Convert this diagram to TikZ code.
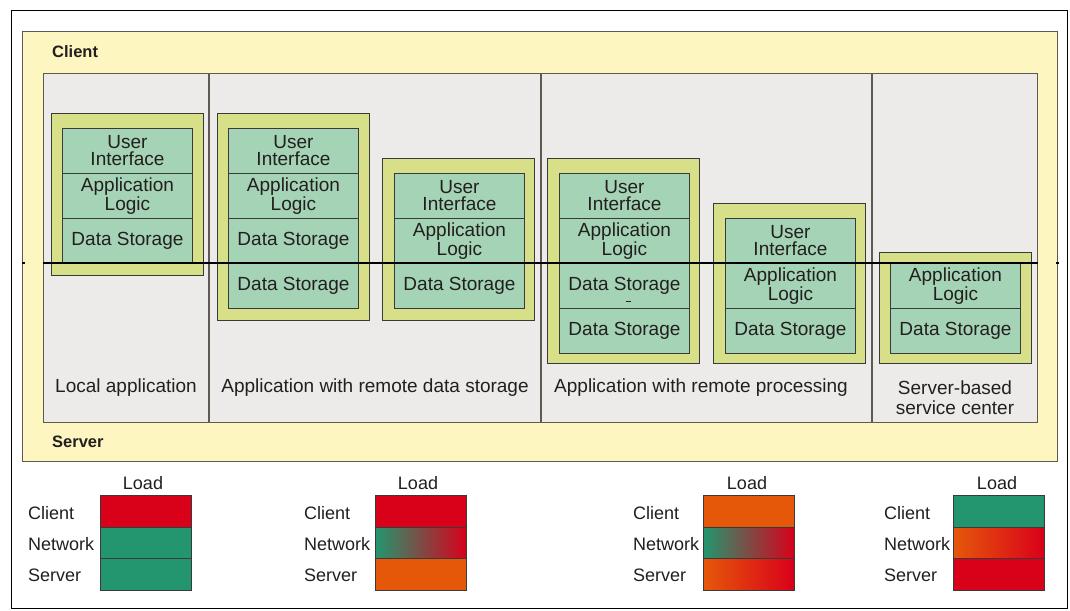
\documentclass[tikz,border=0pt]{standalone}
\usepackage{fontspec}
\setmainfont{Liberation Sans}
\definecolor{ylw}{HTML}{FDF6C0}
\definecolor{pgray}{HTML}{EDEBEA}
\definecolor{brd}{HTML}{5E5A52}
\definecolor{yg}{HTML}{D7DF89}
\definecolor{mint}{HTML}{A4D3B5}
\definecolor{dk}{HTML}{3A3A3A}
\definecolor{txt}{HTML}{231F20}
\definecolor{lred}{HTML}{D9001A}
\definecolor{lgreen}{HTML}{23966F}
\definecolor{lorange}{HTML}{E5580A}
\definecolor{tan}{HTML}{BCA066}
\begin{document}
\begin{tikzpicture}[x=1pt,y=-1pt,
  every node/.style={text=txt},
  holder/.style={draw=dk, fill=yg, line width=0.9pt, anchor=north west, minimum width=152pt, inner sep=0pt},
  tier/.style={draw=dk, fill=mint, line width=0.9pt, anchor=north west, minimum width=130pt, minimum height=45pt, inner sep=0pt, align=center, font=\fontsize{19}{17}\selectfont},
  coltext/.style={font=\fontsize{19}{20}\selectfont, align=center, inner sep=0pt},
  lbl/.style={font=\fontsize{18}{20}\selectfont, anchor=west, inner sep=0pt},
  loadbar/.style={draw=dk, line width=0.9pt, anchor=north west, minimum width=91pt, minimum height=31.7pt, inner sep=0pt},
  side/.style={font=\bfseries\fontsize{16.5}{18}\selectfont, anchor=west, inner sep=0pt},
]
\useasboundingbox (0,0) rectangle (1070,610);
\fill[white] (0,0) rectangle (1070,610);
% outer frame
\node[draw=black, line width=1pt, anchor=north west, minimum width=1056.5pt, minimum height=597.5pt, inner sep=0pt] (frame) at (10.5,10.5) {};
% client/server zone
\node[draw=brd, fill=ylw, line width=1.3pt, anchor=north west, minimum width=1035pt, minimum height=430pt, inner sep=0pt] (zone) at (22,31) {};
\node[side] (clientlbl) at (52,52) {Client};
\node[side] (serverlbl) at (52,442) {Server};
% panel
\node[draw=brd, fill=pgray, line width=1.3pt, anchor=north west, minimum width=994pt, minimum height=349pt, inner sep=0pt] (panel) at (43,73) {};
\draw[brd, line width=1.3pt] (209,73) -- (209,422) (541,73) -- (541,422) (872,73) -- (872,422);

% box 1
\node[holder, minimum height=162pt] (h1) at (51,113) {};
\node[tier] (b1a) at (62,128) {User\\Interface};
\node[tier] (b1b) at (62,173) {Application\\Logic};
\node[tier] (b1c) at (62,218) {Data Storage};
% box 2
\node[holder, minimum height=207pt] (h2) at (216.5,113) {};
\node[tier] (b2a) at (228,128) {User\\Interface};
\node[tier] (b2b) at (228,173) {Application\\Logic};
\node[tier] (b2c) at (228,218) {Data Storage};
\node[tier] (b2d) at (228,263) {Data Storage};
% box 3
\node[holder, minimum height=162pt] (h3) at (382,158) {};
\node[tier] (b3a) at (394,173) {User\\Interface};
\node[tier] (b3b) at (394,218) {Application\\Logic};
\node[tier] (b3c) at (394,263) {Data Storage};
% box 4
\node[holder, minimum height=205pt] (h4) at (547,158) {};
\node[tier] (b4a) at (559,173) {User\\Interface};
\node[tier] (b4b) at (559,218) {Application\\Logic};
\node[tier] (b4c) at (559,263) {Data Storage};
\node[tier] (b4d) at (559,308) {Data Storage};
\draw[txt, line width=1.3pt] (625.5,301.5) -- (630.5,301.5);
% box 5
\node[holder, minimum height=160pt] (h5) at (713,203) {};
\node[tier] (b5a) at (725,218) {User\\Interface};
\node[tier] (b5b) at (725,263) {Application\\Logic};
\node[tier] (b5c) at (725,308) {Data Storage};
% box 6
\node[holder, minimum height=111pt] (h6) at (879,252) {};
\node[tier] (b6a) at (890,263) {Application\\Logic};
\node[tier] (b6b) at (890,308) {Data Storage};

% client/server border line
\draw[black, line width=1.5pt] (panel.west |- 0,263) -- (panel.east |- 0,263);
\draw[black, line width=1.5pt] (21.5,263) -- (24.5,263) (1055.5,263) -- (1058.5,263);

% column captions
\node[coltext] (c1) at (126,388) {Local application};
\node[coltext] (c2) at (375,388) {Application with remote data storage};
\node[coltext] (c3) at (701,388) {Application with remote processing};
\node[coltext] (c4) at (955,398) {Server-based\\service center};

% legend group 1
\node[lbl, anchor=center] (l1) at (143,483) {Load};
\node[loadbar, fill=lred] (g1c) at (100,495) {};
\node[loadbar, fill=lgreen] (g1n) at (100,526.7) {};
\node[loadbar, fill=lgreen] (g1s) at (100,558.3) {};
\node[lbl] (t1c) at (28,513) {Client};
\node[lbl] (t1n) at (28,544) {Network};
\node[lbl] (t1s) at (28,575) {Server};
% legend group 2
\node[lbl, anchor=center] (l2) at (418,483) {Load};
\node[loadbar, fill=lred] (g2c) at (375,495) {};
\node[loadbar, left color=lgreen, middle color=tan, right color=lred] (g2n) at (375,526.7) {};
\node[loadbar, fill=lorange] (g2s) at (375,558.3) {};
\node[lbl] (t2c) at (304,513) {Client};
\node[lbl] (t2n) at (304,544) {Network};
\node[lbl] (t2s) at (304,575) {Server};
% legend group 3
\node[lbl, anchor=center] (l3) at (747,483) {Load};
\node[loadbar, fill=lorange] (g3c) at (703,495) {};
\node[loadbar, left color=lgreen, middle color=tan, right color=lred] (g3n) at (703,526.7) {};
\node[loadbar, left color=lorange, right color=lred] (g3s) at (703,558.3) {};
\node[lbl] (t3c) at (633,513) {Client};
\node[lbl] (t3n) at (633,544) {Network};
\node[lbl] (t3s) at (633,575) {Server};
% legend group 4
\node[lbl, anchor=center] (l4) at (997,483) {Load};
\node[loadbar, fill=lgreen] (g4c) at (953,495) {};
\node[loadbar, left color=lorange, right color=lred] (g4n) at (953,526.7) {};
\node[loadbar, fill=lred] (g4s) at (953,558.3) {};
\node[lbl] (t4c) at (884,513) {Client};
\node[lbl] (t4n) at (884,544) {Network};
\node[lbl] (t4s) at (884,575) {Server};
\end{tikzpicture}
\end{document}
